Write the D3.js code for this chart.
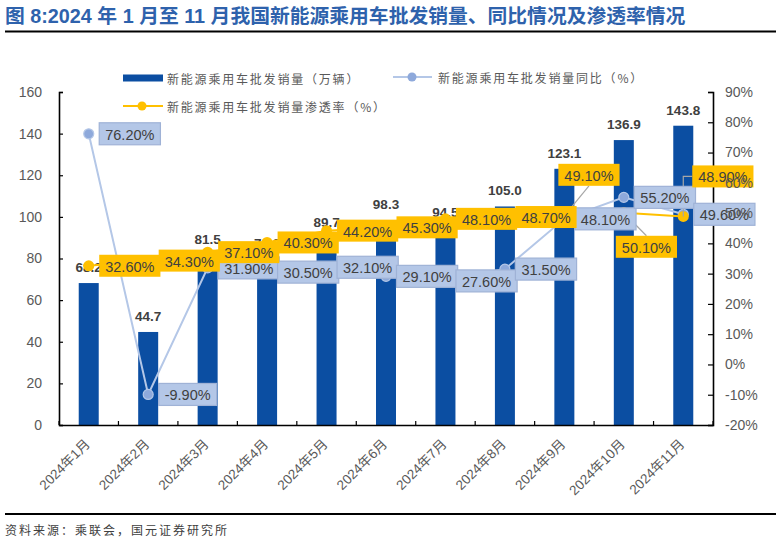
<!DOCTYPE html>
<html>
<head>
<meta charset="utf-8">
<script src="https://cdn.jsdelivr.net/npm/d3@7"></script>
<style>
  html, body { margin: 0; padding: 0; background: #fff; }
  svg { display: block; }
</style>
</head>
<body>
<svg id="chart" width="776" height="543"></svg>
<script>
// ---------- data ----------
const categories = ["2024年1月","2024年2月","2024年3月","2024年4月","2024年5月","2024年6月","2024年7月","2024年8月","2024年9月","2024年10月","2024年11月"];
const sales = [68.2, 44.7, 81.5, 79.8, 89.7, 98.3, 94.5, 105.0, 123.1, 136.9, 143.8];
const yoy = [76.2, -9.9, 31.9, 30.5, 32.1, 29.1, 27.6, 31.5, 48.1, 55.2, 49.6];
const penetration = [32.6, 34.3, 37.1, 40.3, 44.2, 45.3, 48.1, 48.7, 49.1, 50.1, 48.9];
const leftTicks = [0, 20, 40, 60, 80, 100, 120, 140, 160];
const rightTicks = [-20, -10, 0, 10, 20, 30, 40, 50, 60, 70, 80, 90];
const seriesNames = ["新能源乘用车批发销量（万辆）", "新能源乘用车批发销量同比（%）", "新能源乘用车批发销量渗透率（%）"];
const titleText = "图 8:2024 年 1 月至 11 月我国新能源乘用车批发销量、同比情况及渗透率情况";
const sourceText = "资料来源：乘联会，国元证券研究所";

// ---------- layout / style ----------
const svg = d3.select("#chart");
const L = 59, R = 713, T = 92, B = 425;
const latin = "'Liberation Sans', Arial, 'Noto Sans CJK SC', sans-serif";
const cjk = "'Noto Sans CJK SC', 'Liberation Sans', sans-serif";
const barColor = "#0B4EA2";
const blueLine = "#B4C7E7", bluePoint = "#8EA9DB", blueBox = "#B4C7E7", blueBoxStroke = "#9FB2D6";
const gold = "#FFC000";
const axisText = "#595959", labelText = "#404040";

const x = d3.scaleBand().domain(categories).range([L, R]).padding(0);
const yL = d3.scaleLinear().domain([0, 160]).range([B, T]);
const yR = d3.scaleLinear().domain([-20, 90]).range([B, T]);
const cx = c => x(c) + x.bandwidth() / 2;
const barW = 20;
const pct = v => (v < 0 ? "-" : "") + d3.format(".2f")(Math.abs(v)) + "%";

// title
svg.append("text").attr("x", 5).attr("y", 23)
  .attr("font-family", latin).attr("font-weight", "bold").attr("font-size", 19.8)
  .attr("fill", "#2E62AC").text(titleText);
svg.append("line").attr("x1", 5).attr("x2", 776).attr("y1", 31.5).attr("y2", 31.5)
  .attr("stroke", "#000").attr("stroke-width", 2);

// bottom rule + source
svg.append("line").attr("x1", 5).attr("x2", 776).attr("y1", 514).attr("y2", 514)
  .attr("stroke", "#000").attr("stroke-width", 2);
svg.append("text").attr("x", 5).attr("y", 535)
  .attr("font-family", cjk).attr("font-size", 12).attr("letter-spacing", 2)
  .attr("fill", "#404040").text(sourceText);

// bars
svg.append("g").selectAll("rect").data(categories).join("rect")
  .attr("x", c => cx(c) - barW / 2)
  .attr("width", barW)
  .attr("y", (c, i) => yL(sales[i]))
  .attr("height", (c, i) => B - yL(sales[i]))
  .attr("fill", barColor);

// axes (lines + ticks; tick text drawn on top later)
const gL = svg.append("g").attr("transform", `translate(${L},0)`)
  .call(d3.axisLeft(yL).tickValues(leftTicks).tickSize(-4).tickFormat(""));
const gR = svg.append("g").attr("transform", `translate(${R},0)`)
  .call(d3.axisRight(yR).tickValues(rightTicks).tickSize(-5).tickFormat(""));
const gB = svg.append("g").attr("transform", `translate(0,${B})`)
  .call(d3.axisBottom(x).tickSize(0).tickFormat(""));
[gL, gR, gB].forEach(g => {
  g.select(".domain").attr("stroke", "#000").attr("stroke-width", 1.6);
  g.selectAll(".tick line").attr("stroke", "#000").attr("stroke-width", 1.2);
});
// category boundary ticks (inside)
const bounds = categories.map(c => x(c)).concat([R]);
svg.append("g").selectAll("line").data(bounds).join("line")
  .attr("x1", d => d).attr("x2", d => d).attr("y1", B).attr("y2", B - 4)
  .attr("stroke", "#000").attr("stroke-width", 1.2);

// category labels
svg.append("g").selectAll("text").data(categories).join("text")
  .attr("transform", c => `translate(${cx(c) + 2},${B + 20}) rotate(-45)`)
  .attr("text-anchor", "end")
  .attr("font-family", latin).attr("font-size", 13.5)
  .attr("fill", axisText).text(c => c);

// bar value labels
svg.append("g").selectAll("text").data(categories).join("text")
  .attr("x", c => cx(c)).attr("y", (c, i) => yL(sales[i]) - 11)
  .attr("text-anchor", "middle")
  .attr("font-family", latin).attr("font-weight", "bold").attr("font-size", 13.5)
  .attr("fill", labelText).text((c, i) => d3.format(".1f")(sales[i]));

// lines
const lineGen = vals => d3.line().x((c) => cx(c)).y((c, i) => yR(vals[i]))(categories);
svg.append("path").attr("d", lineGen(yoy)).attr("fill", "none")
  .attr("stroke", blueLine).attr("stroke-width", 2);
svg.append("path").attr("d", lineGen(penetration)).attr("fill", "none")
  .attr("stroke", gold).attr("stroke-width", 2);
svg.append("g").selectAll("circle").data(categories).join("circle")
  .attr("cx", c => cx(c)).attr("cy", (c, i) => yR(yoy[i])).attr("r", 5)
  .attr("fill", bluePoint).attr("stroke", blueLine).attr("stroke-width", 1.2);
svg.append("g").selectAll("circle").data(categories).join("circle")
  .attr("cx", c => cx(c)).attr("cy", (c, i) => yR(penetration[i])).attr("r", 5.5)
  .attr("fill", gold);

// data label boxes
const goldOffsets = { 8: { dx: -6, dy: -41, leader: "straight" },
                      9: { dx: -8, dy: 34, leader: "straight" },
                      10: { dx: 9, dy: -40, leader: "elbow" } };
const leaderG = svg.append("g");
function labels(vals, fill, stroke, offsets) {
  const g = svg.append("g");
  categories.forEach((c, i) => {
    const px = cx(c), py = yR(vals[i]);
    const o = offsets[i] || { dx: 10.5, dy: 0 };
    const lg = g.append("g");
    const rect = lg.append("rect");
    const t = lg.append("text")
      .attr("font-family", latin).attr("font-size", 14.5)
      .attr("fill", labelText).attr("dominant-baseline", "central").text(pct(vals[i]));
    const w = t.node().getComputedTextLength() + 12, h = 22;
    const bx = px + o.dx, by = py + o.dy - h / 2;
    rect.attr("x", bx).attr("y", by).attr("width", w).attr("height", h).attr("fill", fill);
    if (stroke) rect.attr("stroke", stroke).attr("stroke-width", 1.2);
    t.attr("x", bx + 6).attr("y", py + o.dy + 1);
    if (o.leader === "straight") {
      const ey = o.dy < 0 ? by + h : by;
      leaderG.append("line").attr("x1", px).attr("y1", py).attr("x2", bx + w / 2).attr("y2", ey)
        .attr("stroke", "#A6A6A6").attr("stroke-width", 1.2);
    } else if (o.leader === "elbow") {
      leaderG.append("path").attr("d", `M${px},${py}V${py + o.dy}H${bx}`)
        .attr("fill", "none").attr("stroke", "#A6A6A6").attr("stroke-width", 1.2);
    }
  });
}
labels(yoy, blueBox, blueBoxStroke, {});
labels(penetration, gold, null, goldOffsets);

// axis tick labels (drawn on top, as in the reference)
const topTicks = svg.append("g");
topTicks.selectAll("text.l").data(leftTicks).join("text").attr("class", "l")
  .attr("x", L - 17).attr("y", d => yL(d)).attr("dy", "0.35em").attr("text-anchor", "end")
  .attr("font-family", latin).attr("font-size", 14).attr("fill", axisText).text(d3.format("d"));
topTicks.selectAll("text.r").data(rightTicks).join("text").attr("class", "r")
  .attr("x", R + 12).attr("y", d => yR(d)).attr("dy", "0.35em").attr("text-anchor", "start")
  .attr("font-family", latin).attr("font-size", 14).attr("fill", axisText).text(d => d + "%");

// legend
const lg = svg.append("g").attr("font-family", cjk).attr("font-size", 12).attr("fill", axisText);
lg.append("rect").attr("x", 123).attr("y", 74.5).attr("width", 40).attr("height", 7).attr("fill", barColor);
lg.append("text").attr("x", 167).attr("y", 78).attr("dominant-baseline", "central")
  .attr("letter-spacing", 1.8).text(seriesNames[0]);
lg.append("line").attr("x1", 393).attr("x2", 432).attr("y1", 77).attr("y2", 77)
  .attr("stroke", blueLine).attr("stroke-width", 2);
lg.append("circle").attr("cx", 412).attr("cy", 77).attr("r", 4.5).attr("fill", bluePoint);
lg.append("text").attr("x", 438).attr("y", 77).attr("dominant-baseline", "central")
  .attr("letter-spacing", 1.8).text(seriesNames[1]);
lg.append("line").attr("x1", 123).attr("x2", 163).attr("y1", 106).attr("y2", 106)
  .attr("stroke", gold).attr("stroke-width", 2);
lg.append("circle").attr("cx", 142).attr("cy", 106).attr("r", 4.5).attr("fill", gold);
lg.append("text").attr("x", 167).attr("y", 106).attr("dominant-baseline", "central")
  .attr("letter-spacing", 1.8).text(seriesNames[2]);
</script>
</body>
</html>
